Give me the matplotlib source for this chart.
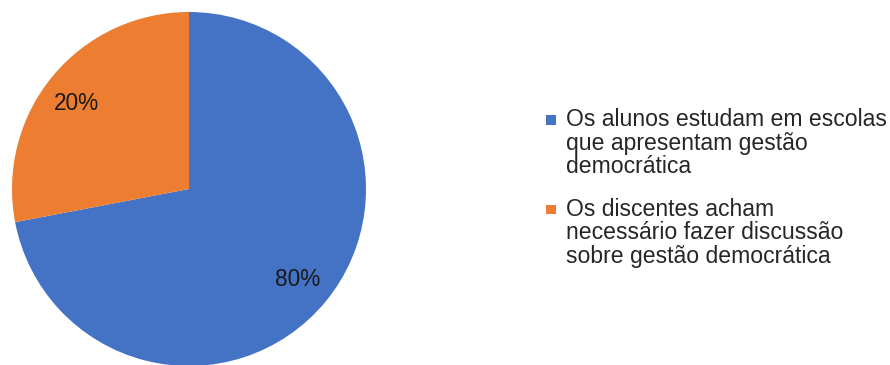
import matplotlib.pyplot as plt
import matplotlib.transforms as mtransforms

# dados do gráfico
legend_labels = [
    "Os alunos estudam em escolas\nque apresentam gestão\ndemocrática",
    "Os discentes acham\nnecessário fazer discussão\nsobre gestão democrática",
]
pct_labels = ["80%", "20%"]          # rótulos impressos no gráfico
slice_share = [72, 28]               # tamanho das fatias como desenhadas na figura
colors = ["#4472C4", "#ED7D31"]

plt.rcParams['font.family'] = ['Liberation Sans', 'DejaVu Sans']

fig = plt.figure(figsize=(8.9, 3.65), dpi=100)
W, H = 890, 365

# eixo da pizza: centro (189,189) px, raio 177 px
cx, cy, r = 189, 189, 177
ax = fig.add_axes([(cx - r) / W, (H - cy - r) / H, 2 * r / W, 2 * r / H])
wedges, texts = ax.pie(slice_share, colors=colors, startangle=90, counterclock=False,
                       labels=pct_labels, labeldistance=0.8,
                       wedgeprops=dict(linewidth=0),
                       textprops=dict(fontsize=16.3, color='#1a1a1a', ha='center', va='center'))
# pequeno ajuste do rótulo laranja
texts[1].set_transform(texts[1].get_transform() +
                       mtransforms.ScaledTranslation(-0.03, -0.05, fig.dpi_scale_trans))
ax.set_xlim(-1, 1)
ax.set_ylim(-1, 1)
ax.set_aspect('auto')
ax.axis('off')

# legenda estilo Excel (marcador alinhado com a primeira linha)
text_x = 566
tops = [108.5, 198]
for lab, col, yt in zip(legend_labels, colors, tops):
    fig.text(text_x / W, 1 - yt / H, lab, fontsize=16.6, color='#262626',
             ha='left', va='top', linespacing=1.02)
    sq = plt.Rectangle((546 / W, 1 - (yt + 16) / H), 9.5 / W, 9.5 / H,
                       transform=fig.transFigure, color=col, linewidth=0)
    fig.add_artist(sq)

fig.savefig("out.png", dpi=100)
